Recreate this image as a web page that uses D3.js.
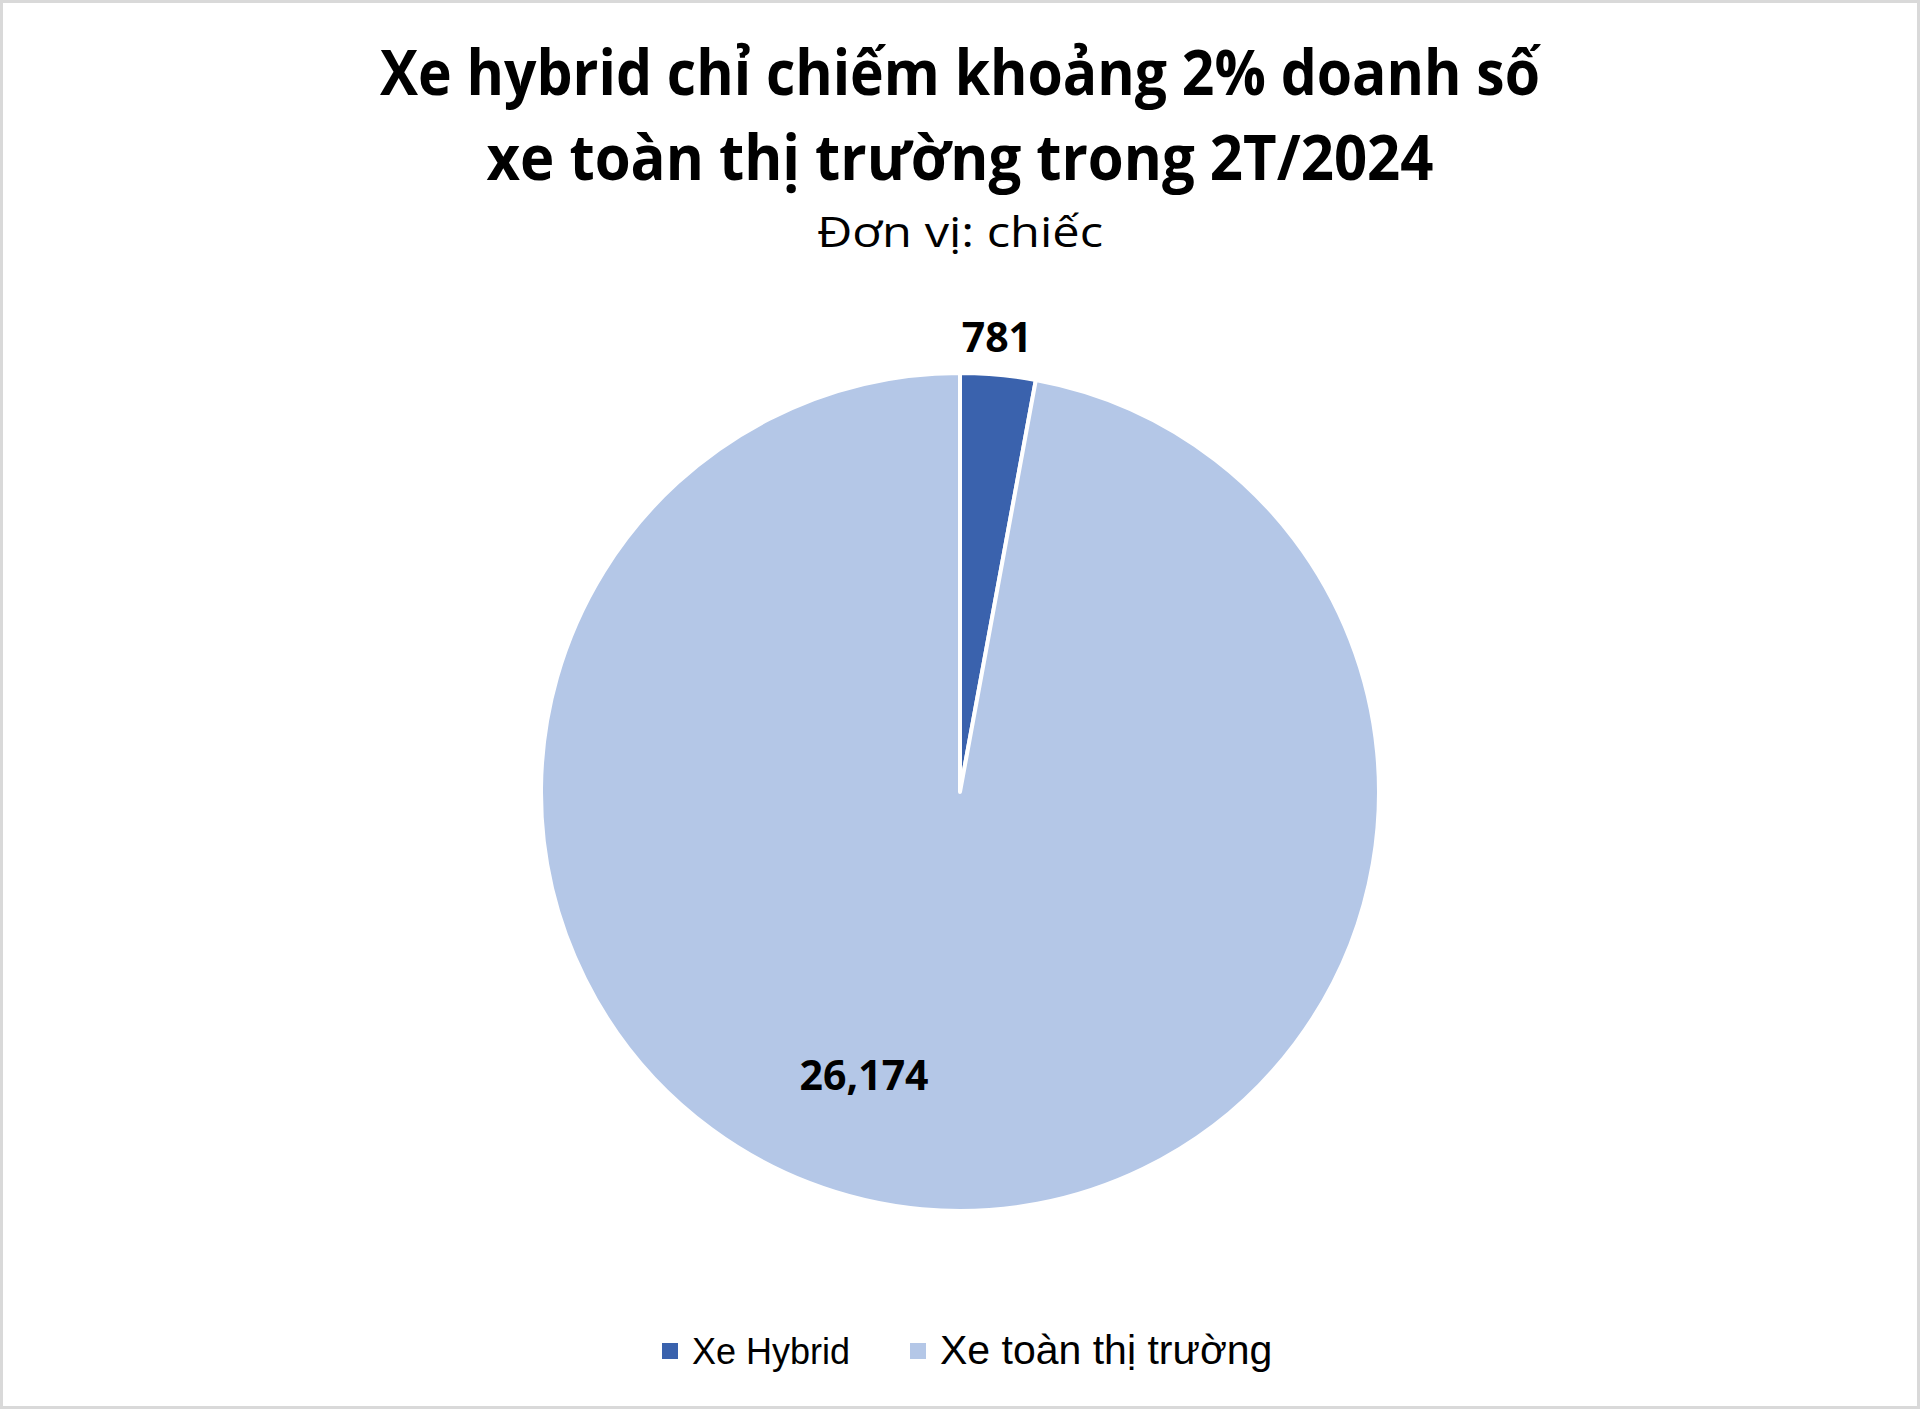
<!DOCTYPE html>
<html>
<head>
<meta charset="utf-8">
<script src="https://cdn.jsdelivr.net/npm/d3@7"></script>
<style>
  html, body { margin: 0; padding: 0; background: #fff; }
  svg { display: block; }
</style>
</head>
<body>
<div id="chart"></div>
<script>
"use strict";

// data
const categories = ['Xe Hybrid', 'Xe toàn thị trường']
const values = [781, 26174]
const colors = ['#3A62AD', '#B4C7E7']
const titleLines = ['Xe hybrid chỉ chiếm khoảng 2% doanh số', 'xe toàn thị trường trong 2T/2024']
const subtitle = 'Đơn vị: chiếc'

const W = 1920
    , H = 1409
    , CX = 960
    , CY = 792
    , R = 419

const svg = d3.select('#chart')
  .append('svg')
  .attr('width', W)
  .attr('height', H)

svg.append('rect')
  .attr('x', 1.5).attr('y', 1.5)
  .attr('width', W - 3).attr('height', H - 3)
  .attr('fill', '#fff')
  .attr('stroke', '#d9d9d9')
  .attr('stroke-width', 3)

// title, squeezed to the widths seen in the reference (Calibri is narrow)
const titleFont = '"Open Sans", "Noto Sans", sans-serif'
const titleSpec = [
  { y: 95, size: 62, len: 1160, weight: 700 },
  { y: 180, size: 62, len: 947, weight: 700 },
]
titleLines.forEach((t, i) => {
  svg.append('text')
    .attr('x', CX)
    .attr('y', titleSpec[i].y)
    .attr('text-anchor', 'middle')
    .attr('font-family', titleFont)
    .attr('font-weight', titleSpec[i].weight)
    .attr('font-size', titleSpec[i].size)
    .attr('textLength', titleSpec[i].len)
    .attr('lengthAdjust', 'spacingAndGlyphs')
    .attr('fill', '#000')
    .text(t)
})

svg.append('text')
  .attr('x', CX)
  .attr('y', 247)
  .attr('text-anchor', 'middle')
  .attr('font-family', titleFont)
  .attr('font-size', 42)
  .attr('textLength', 286)
  .attr('lengthAdjust', 'spacingAndGlyphs')
  .attr('fill', '#000')
  .text(subtitle)

// pie
const pie = d3.pie().sort(null).value(d => d)
const arcs = pie(values)
const arc = d3.arc().innerRadius(0).outerRadius(R)

const g = svg.append('g')
  .attr('transform', `translate(${CX},${CY})`)

g.selectAll('path')
  .data(arcs)
  .enter()
  .append('path')
  .attr('d', arc)
  .attr('fill', (d, i) => colors[i])
  .attr('stroke', '#fff')
  .attr('stroke-width', 4)
  .attr('stroke-linejoin', 'round')

// data labels: the small slice sits outside, the big one inside (Excel "best fit")
const labelPlace = [
  { r: R * 1.088, da: -0.01 },
  { r: R * 0.715, da: 0.235 },
]
g.selectAll('text.lbl')
  .data(arcs)
  .enter()
  .append('text')
  .attr('class', 'lbl')
  .each(function(d, i) {
    const a = (d.startAngle + d.endAngle) / 2 + labelPlace[i].da
        , r = labelPlace[i].r
    d3.select(this)
      .attr('x', Math.sin(a) * r)
      .attr('y', -Math.cos(a) * r)
  })
  .attr('text-anchor', 'middle')
  .attr('dy', '0.35em')
  .attr('font-family', titleFont)
  .attr('font-weight', 700)
  .attr('font-size', 41)
  .attr('fill', '#000')
  .text(d => d3.format(',')(d.value))

// legend
const legendFont = '"Liberation Sans", Arial, sans-serif'
const legendSpec = [
  { x: 662, size: 36 },
  { x: 910, size: 41 },
]
const lg = svg.append('g')
categories.forEach((c, i) => {
  lg.append('rect')
    .attr('x', legendSpec[i].x)
    .attr('y', 1343)
    .attr('width', 16)
    .attr('height', 16)
    .attr('fill', colors[i])
  lg.append('text')
    .attr('x', legendSpec[i].x + 30)
    .attr('y', 1364)
    .attr('font-family', legendFont)
    .attr('font-size', legendSpec[i].size)
    .attr('fill', '#000')
    .text(c)
})
</script>
</body>
</html>
